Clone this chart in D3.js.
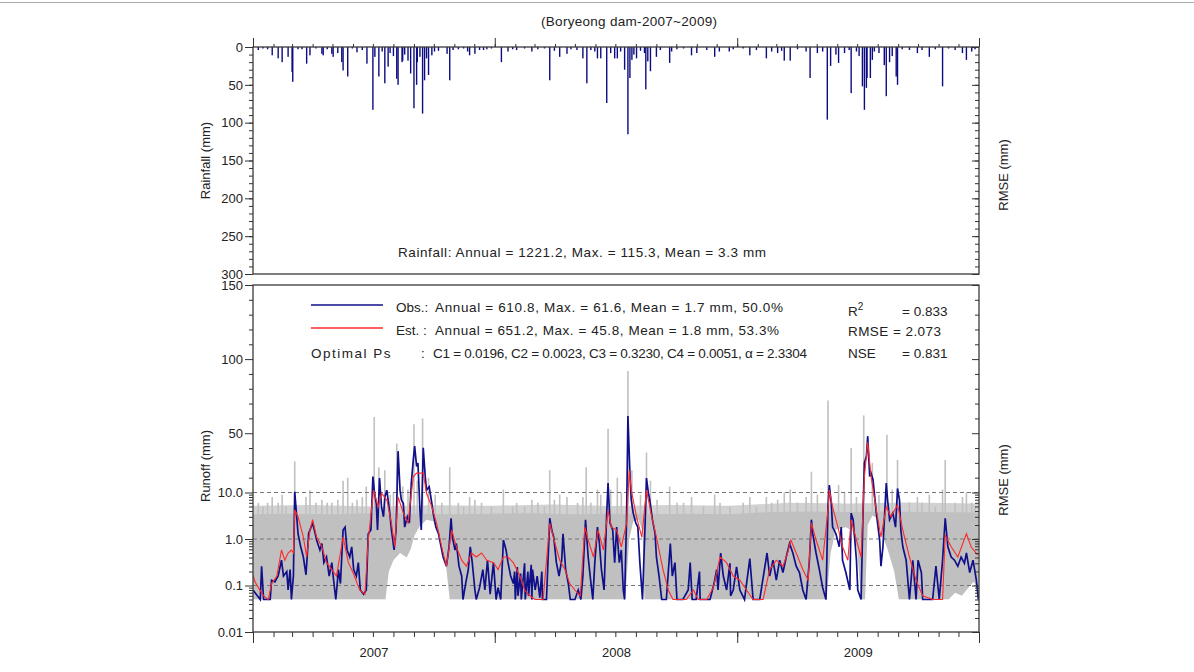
<!DOCTYPE html>
<html>
<head>
<meta charset="utf-8">
<script src="https://cdn.jsdelivr.net/npm/d3@7"></script>
<style>
  body { margin: 0; background: #fff; }
  svg { font-family: "Liberation Sans", Arial, sans-serif; }
</style>
</head>
<body>
<svg id="chart" width="1194" height="672"></svg>
<script>
// day = days since 2007-01-01
const rainfall = [
  [8,4],[15,2],[22,3],[29,11],[38,15],[44,20],[53,13],[59,33],[60,46],[68,3],[74,3],[81,22],[86,11],
  [95,2],[104,9],[106,11],[112,3],[119,9],[121,13],[128,8],[134,20],[136,31],[143,39],[150,2],[157,7],
  [165,4],[172,22],[181,83],[184,13],[190,39],[195,6],[199,48],[204,26],[207,8],[212,12],[217,42],[219,50],
  [225,20],[226,18],[229,10],[234,18],[238,35],[243,81],[247,50],[248,20],[252,13],[256,88],[259,44],[262,15],
  [265,37],[270,11],[274,6],[280,5],[293,9],[297,44],[302,4],[310,3],[318,2],[324,6],[327,11],[335,9],
  [342,4],[348,4],[353,3],[360,2],[375,20],[385,6],[392,3],[398,4],[410,2],[421,6],[430,3],[440,2],
  [448,44],[455,5],[463,13],[474,9],[480,3],[489,4],[498,15],[504,48],[510,4],[516,6],[520,15],[525,15],
  [534,74],[540,8],[546,15],[550,15],[555,6],[561,30],[566,115.3],[569,41],[572,17],[575,10],[579,15],
  [585,5],[591,8],[593,56],[596,19],[600,32],[609,13],[615,4],[629,21],[632,6],[640,3],[650,2],[662,11],
  [670,8],[685,4],[697,13],[704,6],[719,6],[725,3],[740,2],[750,11],[760,4],[775,15],[783,6],[792,8],
  [798,5],[802,18],[811,18],[822,3],[835,6],[841,41],[852,8],[860,6],[867,96],[872,25],[880,10],[884,21],
  [893,8],[900,4],[903,61],[911,6],[915,12],[920,52],[923,83],[926,54],[927,41],[932,41],[935,17],[938,6],
  [945,8],[953,24],[956,65],[961,20],[965,12],[971,39],[973,50],[980,3],[991,4],[1003,8],[1010,4],[1021,13],
  [1030,3],[1041,52],[1050,2],[1060,4],[1071,8],[1077,17],[1085,6],[1090,3]
];

const obsRunoff = [
  [0,0.08],[11,0.05],[13,0.26],[16,0.05],[26,0.05],[28,0.13],[33,0.12],[38,0.16],[43,0.35],[46,0.16],
  [51,0.2],[53,0.08],[56,0.22],[58,0.05],[61,0.16],[63,10.5],[66,3.0],[68,1.3],[72,0.68],[76,0.41],[80,0.17],
  [84,1.3],[86,1.56],[90,2.2],[94,1.3],[96,0.95],[101,0.58],[104,0.8],[107,0.31],[111,0.41],[115,0.16],
  [119,0.31],[121,0.16],[125,0.05],[129,0.22],[132,0.11],[136,1.56],[139,1.8],[142,0.58],[146,0.41],
  [149,0.68],[152,0.22],[156,0.16],[159,0.31],[162,0.08],[167,0.065],[171,0.08],[174,1.3],[178,1.56],
  [181,20.8],[183,11.6],[186,5.8],[188,1.56],[191,19.7],[194,4.9],[197,3.0],[199,8.0],[202,11.6],[206,4.2],
  [209,1.56],[213,0.58],[216,1.56],[219,37.9],[222,11.6],[224,6.9],[227,5.8],[229,1.8],[233,3.0],[236,2.2],
  [239,16.3],[242,32.2],[244,41.3],[247,27.6],[249,29.9],[252,4.2],[254,1.56],[257,40.2],[260,20.8],
  [262,11.6],[266,13.9],[270,5.8],[272,3.6],[276,1.8],[280,1.3],[283,0.8],[287,0.41],[292,0.26],[296,0.68],
  [299,2.8],[301,1.1],[305,0.58],[307,0.8],[311,0.26],[315,0.16],[317,0.05],[321,0.11],[325,0.22],[328,0.68],
  [331,0.31],[335,0.08],[337,0.05],[342,0.09],[347,0.22],[350,0.08],[354,0.35],[358,0.065],[363,0.31],
  [367,0.05],[370,0.09],[374,0.05],[378,0.95],[382,0.58],[385,0.31],[389,0.16],[393,0.11],[395,0.2],
  [396,0.05],[399,0.25],[400,0.06],[404,0.18],[405,0.05],[410,0.3],[411,0.05],[415,0.2],[416,0.06],
  [420,0.28],[421,0.05],[422,0.22],[426,0.08],[429,0.16],[433,0.055],[436,0.2],[437,0.05],[443,0.05],
  [448,2.8],[451,1.56],[454,1.1],[458,0.31],[462,0.16],[466,0.35],[468,1.3],[472,0.22],[476,0.11],
  [479,0.05],[486,0.05],[491,0.08],[495,0.05],[498,0.16],[502,2.6],[506,0.41],[509,0.16],[513,0.05],
  [516,0.31],[520,1.8],[523,0.8],[526,0.22],[530,0.08],[534,3.6],[536,16.3],[539,2.2],[543,1.56],[546,0.31],
  [549,1.8],[553,0.31],[556,0.58],[559,0.08],[561,0.05],[564,3.0],[566,61.6],[569,23.1],[571,6.9],[574,3.6],
  [578,2.2],[581,1.8],[584,0.31],[588,0.05],[592,2.2],[594,19.7],[597,9.6],[599,6.9],[603,2.6],[607,1.3],
  [609,0.41],[613,0.16],[617,0.05],[624,0.05],[630,0.8],[633,0.16],[637,0.31],[640,0.05],[649,0.05],
  [657,0.08],[660,0.31],[663,0.05],[669,0.05],[674,0.2],[675,0.05],[690,0.05],[696,0.11],[700,0.22],
  [702,0.08],[706,0.5],[710,0.16],[715,0.08],[720,0.3],[721,0.06],[725,0.08],[730,0.25],[735,0.08],
  [742,0.05],[750,0.38],[755,0.05],[765,0.05],[776,0.5],[780,0.16],[785,0.35],[790,0.13],[795,0.35],
  [800,0.19],[805,0.41],[810,0.8],[815,0.5],[820,0.26],[825,0.19],[830,0.08],[835,0.05],[840,0.35],
  [843,2.6],[845,1.3],[850,0.5],[855,0.22],[860,0.09],[865,0.05],[868,4.9],[870,15],[873,5.8],[875,1.8],
  [880,1.3],[885,0.68],[888,1.8],[890,0.35],[895,0.19],[901,0.08],[903,3.6],[906,2.6],[911,0.35],[913,0.08],
  [918,0.05],[921,4.2],[923,29.9],[926,34.5],[928,48],[931,20.8],[933,23.1],[936,18.6],[941,3.6],[946,0.95],
  [948,0.26],[951,0.68],[956,16.3],[958,6.9],[961,2.6],[966,3.6],[970,1.8],[973,12.7],[976,6.9],[978,1.56],
  [981,0.68],[986,0.35],[991,0.05],[996,0.35],[1001,0.05],[1004,0.35],[1009,0.19],[1011,0.05],[1026,0.05],
  [1031,0.26],[1036,0.05],[1041,0.35],[1045,2.8],[1049,0.68],[1054,0.41],[1059,0.35],[1064,0.26],
  [1069,0.41],[1074,0.3],[1077,0.5],[1082,0.19],[1087,0.35],[1092,0.13],[1095,0.05]
];

const estRunoff = [
  [0,0.17],[3,0.12],[8,0.09],[16,0.06],[23,0.05],[28,0.11],[36,0.16],[43,0.58],[48,0.35],[53,0.5],[58,0.58],
  [61,0.5],[63,4.2],[68,3.0],[76,1.1],[81,0.41],[86,1.56],[90,2.6],[96,1.1],[104,0.68],[111,0.31],[119,0.22],
  [126,0.16],[136,1.1],[144,0.31],[151,0.19],[161,0.08],[169,0.065],[174,0.95],[182,11.6],[189,4.9],
  [194,9.6],[202,6.9],[209,2.2],[214,0.68],[219,8.0],[227,3.6],[234,2.2],[242,20.8],[247,23.1],[257,23.1],
  [262,9.6],[270,4.9],[277,2.2],[285,0.68],[292,0.26],[300,1.56],[307,0.68],[315,0.35],[322,0.26],[330,0.5],
  [337,0.41],[345,0.5],[353,0.35],[363,0.31],[370,0.22],[378,0.41],[385,0.41],[393,0.31],[403,0.16],
  [410,0.08],[418,0.06],[426,0.05],[438,0.05],[448,2.2],[456,0.8],[463,0.35],[471,0.22],[478,0.11],
  [486,0.08],[494,0.06],[501,1.8],[506,0.95],[514,0.41],[521,1.56],[529,0.58],[536,4.2],[541,1.8],
  [549,1.56],[556,0.68],[564,2.2],[568,25],[571,11.6],[579,3.0],[587,1.1],[594,11.6],[602,3.0],[609,1.1],
  [619,0.22],[627,0.08],[634,0.05],[654,0.05],[665,0.08],[672,0.05],[685,0.05],[695,0.09],[705,0.41],
  [715,0.31],[725,0.16],[735,0.13],[745,0.08],[755,0.05],[770,0.05],[780,0.22],[790,0.35],[800,0.26],
  [807,0.5],[812,0.95],[820,0.5],[830,0.22],[838,0.13],[843,2.2],[850,0.95],[860,0.35],[868,4.2],[870,11.6],
  [875,4.9],[883,1.8],[890,0.68],[898,0.35],[903,2.6],[911,0.95],[918,0.41],[923,20.8],[928,44],[933,20.8],
  [941,4.2],[948,1.1],[956,4.9],[963,3.0],[973,5.4],[981,1.56],[991,0.41],[1001,0.13],[1011,0.06],
  [1026,0.05],[1041,0.05],[1045,1.2],[1054,0.68],[1064,0.41],[1077,1.3],[1084,0.68],[1094,0.45]
];

// ensemble (parameter sets) envelope shown in grey
const ensHigh = [
  [0,3.4],[60,3.5],[120,3.4],[180,3.6],[240,3.5],[300,3.4],[360,3.5],[420,3.6],[480,3.4],[540,3.5],
  [600,3.4],[660,3.5],[720,3.4],[780,3.8],[840,3.9],[900,3.8],[960,3.9],[1020,3.8],[1095,3.7]
];
const ensOuter = [
  [0,5.2],[90,5.4],[180,5.0],[270,5.3],[360,5.2],[450,5.5],[540,5.1],[630,5.4],[720,5.2],[810,6.0],
  [900,5.8],[990,6.1],[1095,5.8]
];
const ensLow = [
  [0,0.05],[200,0.05],[205,0.2],[212,0.35],[222,0.5],[232,0.4],[238,0.6],[244,1.2],[252,1.9],[262,2.6],
  [272,2.4],[282,1.2],[290,0.4],[297,0.05],[562,0.05],[568,1.0],[574,2.4],[582,2.6],[588,1.5],[591,0.05],
  [866,0.05],[872,0.5],[880,1.6],[895,1.8],[905,1.5],[912,0.6],[918,0.05],[924,0.05],[928,2.0],
  [935,3.2],[942,2.8],[950,1.2],[958,0.6],[968,0.2],[975,0.05],[1050,0.05],[1060,0.07],[1070,0.06],
  [1080,0.09],[1088,0.12],[1095,0.08]
];
const ensPeaks = [
  [8,6],[15,5],[22,6],[29,8],[38,6],[44,9],[50,5],[63,31],[80,8],[86,11.6],[95,6],[104,7],[112,6],[119,6],
  [128,7],[136,18],[143,20],[150,6],[157,7],[165,8],[171,14],[183,61],[190,27],[199,25],[207,9],[212,10],
  [217,43],[226,14],[234,12],[243,56],[248,18],[256,60],[265,20],[275,9],[285,6],[297,27],[310,6],[318,5],
  [327,8],[335,7],[345,6],[360,5],[378,12],[392,5],[398,6],[410,5],[421,7],[430,6],[440,5],[448,25],[455,7],
  [463,9],[474,8],[490,6],[498,8],[503,27],[510,6],[520,12],[525,9],[536,53],[540,12],[550,20],[556,10],
  [566,92],[572,25],[585,9],[594,37],[600,18],[610,7],[629,14],[640,6],[650,6],[662,8],[680,5],[697,9],
  [705,6],[720,5],[740,6],[750,8],[760,5],[775,8],[783,6],[792,7],[802,10],[811,12],[822,6],[835,8],
  [843,24],[852,9],[868,72],[884,15],[893,10],[903,40],[911,8],[922,62],[935,30],[945,9],[957,49],
  [965,12],[973,32],[991,6],[1003,8],[1010,6],[1021,9],[1030,5],[1041,12],[1045,32],[1060,6],[1071,8],
  [1077,10],[1085,6],[1090,5]
];

const rainTicks = [0, 50, 100, 150, 200, 250, 300];
const runoffLogTicks = [0.01, 0.1, 1, 10];
const runoffLogLabels = ["0.01", "0.1", "1.0", "10.0"];
const runoffLinTicks = [50, 100, 150];
const years = [2007, 2008, 2009];

const titleText = "(Boryeong dam-2007~2009)";
const rainText = "Rainfall: Annual = 1221.2, Max. = 115.3, Mean = 3.3 mm";
const obsText = "Annual = 610.8, Max. = 61.6, Mean = 1.7 mm, 50.0%";
const estText = "Annual = 651.2, Max. = 45.8, Mean = 1.8 mm, 53.3%";
const paramText = "C1 = 0.0196, C2 = 0.0023, C3 = 0.3230, C4 = 0.0051, \u03b1 = 2.3304";

const svg = d3.select("#chart");
const left = 253, right = 979;
const topPanel = { top: 47, bottom: 274 };
const botPanel = { top: 285, bottom: 632 };
const axisColor = "#333";
const textColor = "#222";
const fs = "13.5px";

const start = new Date(2007, 0, 1);
const toDate = d => d3.timeDay.offset(start, d);

const x = d3.scaleTime().domain([start, new Date(2010, 0, 1)]).range([left, right]);
const yRain = d3.scaleLinear().domain([0, 300]).range([topPanel.top, topPanel.bottom]);
// runoff axis: log below 10 mm, linear above
const yLog = d3.scaleLog().domain([0.01, 10]).range([botPanel.bottom, 492.5]);
const yLin = d3.scaleLinear().domain([10, 150]).range([492.5, botPanel.top]);
const yQ = v => v <= 10 ? yLog(v) : yLin(v);

// page border line
svg.append("line").attr("x1", 0).attr("x2", 1194).attr("y1", 2.5).attr("y2", 2.5)
  .attr("stroke", "#aaa").attr("stroke-width", 1);

svg.append("defs").append("clipPath").attr("id", "clipBot")
  .append("rect").attr("x", left).attr("y", botPanel.top)
  .attr("width", right - left).attr("height", botPanel.bottom - botPanel.top);

// ---------- Rainfall panel ----------
svg.append("g").selectAll("rect")
  .data(rainfall)
  .join("rect")
  .attr("x", d => x(toDate(d[0])) - 0.7)
  .attr("y", yRain(0))
  .attr("width", 1.4)
  .attr("height", d => yRain(d[1]) - yRain(0))
  .attr("fill", "#0c0c80");

// ---------- Runoff panel ----------
const gBot = svg.append("g").attr("clip-path", "url(#clipBot)");
const floor = yQ(0.05);

gBot.append("path")
  .datum(ensOuter)
  .attr("fill", "#d2d2d2")
  .attr("d", d3.area().x(d => x(toDate(d[0]))).y0(floor).y1(d => yQ(d[1])));

gBot.append("path")
  .datum(ensHigh)
  .attr("fill", "#c0c0c0")
  .attr("d", d3.area().x(d => x(toDate(d[0]))).y0(floor).y1(d => yQ(d[1])));

gBot.append("g").selectAll("line")
  .data(ensPeaks)
  .join("line")
  .attr("x1", d => x(toDate(d[0]))).attr("x2", d => x(toDate(d[0])))
  .attr("y1", yQ(2)).attr("y2", d => yQ(d[1]))
  .attr("stroke", "#c0c0c0").attr("stroke-width", 1.6);

gBot.append("path")
  .datum(ensLow)
  .attr("fill", "#fff")
  .attr("d", d3.area().x(d => x(toDate(d[0]))).y0(floor + 1).y1(d => yQ(d[1])));

// dashed reference lines
gBot.append("g").selectAll("line")
  .data([0.1, 1, 10])
  .join("line")
  .attr("x1", left).attr("x2", right)
  .attr("y1", d => yQ(d)).attr("y2", d => yQ(d))
  .attr("stroke", "#777").attr("stroke-dasharray", "4,3");

const runoffLine = d3.line().x(d => x(toDate(d[0]))).y(d => yQ(d[1]));

gBot.append("path")
  .datum(obsRunoff)
  .attr("fill", "none")
  .attr("stroke", "#10108a")
  .attr("stroke-width", 1.7)
  .attr("d", runoffLine);

gBot.append("path")
  .datum(estRunoff)
  .attr("fill", "none")
  .attr("stroke", "#ff2a2a")
  .attr("stroke-width", 1.1)
  .attr("d", runoffLine);

// ---------- Frames ----------
[topPanel, botPanel].forEach(p => {
  svg.append("rect")
    .attr("x", left).attr("y", p.top)
    .attr("width", right - left).attr("height", p.bottom - p.top)
    .attr("fill", "none").attr("stroke", "#3a3a3a").attr("stroke-width", 1.3);
});

// ---------- Axes ----------
function styleAxis(g) {
  g.select(".domain").remove();
  g.selectAll(".tick line").attr("stroke", axisColor);
  g.selectAll(".tick text").attr("fill", textColor).style("font-size", "13px");
}

svg.append("g").attr("transform", `translate(${left},0)`)
  .call(d3.axisLeft(yRain).tickValues(rainTicks).tickSize(8).tickPadding(2))
  .call(styleAxis);
svg.append("g").attr("transform", `translate(${left},0)`)
  .call(d3.axisLeft(yRain).tickValues(d3.range(0, 301, 10)).tickSize(4).tickFormat(""))
  .call(styleAxis);
svg.append("g").attr("transform", `translate(${right},0)`)
  .call(d3.axisLeft(yRain).tickValues(rainTicks).tickSize(7).tickFormat(""))
  .call(styleAxis);
svg.append("g").attr("transform", `translate(${right},0)`)
  .call(d3.axisLeft(yRain).tickValues(d3.range(0, 301, 10)).tickSize(4).tickFormat(""))
  .call(styleAxis);

const logMinor = [];
[0.01, 0.1, 1].forEach(dec => d3.range(2, 10).forEach(k => logMinor.push(k * dec)));
const linMinor = d3.range(20, 150, 10).filter(v => !runoffLinTicks.includes(v));

[left, right].forEach(px => {
  const lab = px === left;
  svg.append("g").attr("transform", `translate(${px},0)`)
    .call(d3.axisLeft(yLog).tickValues(runoffLogTicks).tickSize(lab ? 8 : 7).tickPadding(2)
      .tickFormat((d, i) => lab ? runoffLogLabels[i] : ""))
    .call(styleAxis);
  svg.append("g").attr("transform", `translate(${px},0)`)
    .call(d3.axisLeft(yLog).tickValues(logMinor).tickSize(4).tickFormat(""))
    .call(styleAxis);
  svg.append("g").attr("transform", `translate(${px},0)`)
    .call(d3.axisLeft(yLin).tickValues(runoffLinTicks).tickSize(lab ? 8 : 7).tickPadding(2)
      .tickFormat(d => lab ? d : ""))
    .call(styleAxis);
  svg.append("g").attr("transform", `translate(${px},0)`)
    .call(d3.axisLeft(yLin).tickValues(linMinor).tickSize(4).tickFormat(""))
    .call(styleAxis);
});

const months = d3.timeMonth.range(start, new Date(2010, 0, 2));
const yearStarts = years.map(y => new Date(y, 0, 1)).concat([new Date(2010, 0, 1)]);
const midYears = years.map(y => new Date(y, 6, 2));

svg.append("g").attr("transform", `translate(0,${topPanel.top})`)
  .call(d3.axisTop(x).tickValues(months).tickSize(3).tickFormat(""))
  .call(styleAxis);
svg.append("g").attr("transform", `translate(0,${topPanel.top})`)
  .call(d3.axisTop(x).tickValues(yearStarts).tickSize(9).tickFormat(""))
  .call(styleAxis);

svg.append("g").attr("transform", `translate(0,${botPanel.bottom})`)
  .call(d3.axisBottom(x).tickValues(months).tickSize(5).tickFormat(""))
  .call(styleAxis);
svg.append("g").attr("transform", `translate(0,${botPanel.bottom})`)
  .call(d3.axisBottom(x).tickValues(yearStarts).tickSize(11).tickFormat(""))
  .call(styleAxis);
svg.append("g").attr("transform", `translate(0,${botPanel.bottom})`)
  .call(d3.axisBottom(x).tickValues(midYears).tickSize(0).tickPadding(16).tickFormat(d3.timeFormat("%Y")))
  .call(styleAxis);

// ---------- Labels ----------
function label(px, py, txt, len) {
  const t = svg.append("text")
    .attr("x", px).attr("y", py)
    .style("font-size", fs).attr("fill", textColor)
    .text(txt);
  if (len) t.attr("textLength", len).attr("lengthAdjust", "spacing");
  return t;
}

label(541, 26, titleText, 176);

function vLabel(px, py, txt) {
  svg.append("text")
    .attr("transform", `translate(${px},${py}) rotate(-90)`)
    .attr("text-anchor", "middle")
    .style("font-size", "13px").attr("fill", textColor)
    .text(txt);
}
vLabel(210, (topPanel.top + topPanel.bottom) / 2, "Rainfall (mm)");
vLabel(210, 466, "Runoff (mm)");
vLabel(1008, 175, "RMSE (mm)");
vLabel(1008, 480, "RMSE (mm)");

label(398, 257, rainText, 368);

// legend
const legendRows = [
  { y: 312, name: "Obs.:", text: obsText, len: 348, color: "#10108a", lineY: 305 },
  { y: 335, name: "Est. :", text: estText, len: 344, color: "#ff2a2a", lineY: 328 }
];
legendRows.forEach(r => {
  svg.append("line")
    .attr("x1", 311).attr("x2", 383).attr("y1", r.lineY).attr("y2", r.lineY)
    .attr("stroke", r.color).attr("stroke-width", 1.3);
  label(396, r.y, r.name);
  label(435, r.y, r.text, r.len);
});
label(311, 358, "Optimal Ps").attr("letter-spacing", "1.5px");
label(421, 358, ":");
label(433, 358, paramText, 374);

// fit statistics
const r2 = label(848, 316, "R");
r2.append("tspan").attr("dy", -6).style("font-size", "10px").text("2");
label(902, 316, "= 0.833");
label(848, 336, "RMSE = 2.073", 93);
label(848, 358, "NSE");
label(902, 358, "= 0.831");
</script>
</body>
</html>
